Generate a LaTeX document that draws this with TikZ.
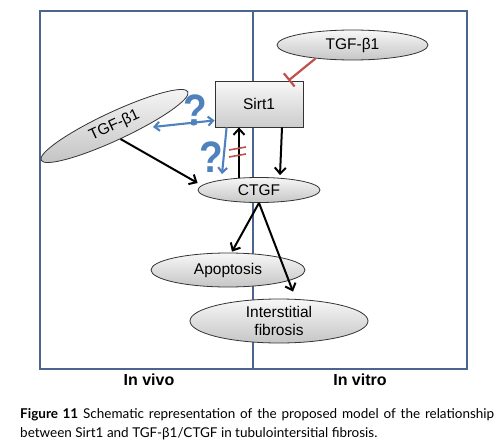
\documentclass[tikz,border=0pt]{standalone}
\usepackage{fontspec}
\setmainfont{Liberation Sans}
\newfontfamily\capfont{Lato}
\usetikzlibrary{shapes.geometric,arrows.meta,calc}
\definecolor{frameblue}{HTML}{4A6590}
\definecolor{qblue}{HTML}{4F81BD}
\definecolor{inhred}{HTML}{C0504D}
\begin{document}
\begin{tikzpicture}[x=1pt,y=-1pt,
  oval/.style={ellipse, draw=black!80, line width=0.8pt, top color=gray!6, bottom color=gray!45, inner sep=0pt, font=\fontsize{15.5}{18}\selectfont, align=center},
  sbox/.style={rectangle, draw=black!80, line width=0.8pt, top color=gray!6, bottom color=gray!40, inner sep=0pt, font=\fontsize{15.5}{18}\selectfont},
  arr/.style={-{Straight Barb[length=6pt,width=11pt]}, line width=2pt, black},
  barr/.style={-{Straight Barb[length=5pt,width=9pt]}, line width=2.1pt, qblue},
  inhib/.style={-{Bar[width=17pt,line width=2.2pt]}, inhred, line width=2.2pt},
  eqmark/.style={inhred, line width=1.6pt},
  qmark/.style={text=qblue, inner sep=0pt, font=\fontsize{44}{44}\selectfont\bfseries, xscale=0.88},
  side/.style={font=\fontsize{16}{18}\selectfont\bfseries, inner sep=0pt, anchor=base},
  frame/.style={draw=frameblue, line width=2.2pt}
]
\useasboundingbox (0,0) rectangle (496,442);
% frame
\draw[frame] (40,11) rectangle (467,369);
\draw[draw=frameblue, line width=1.5pt] (253,11) -- (253,369);
% nodes
\node[oval, minimum width=151pt, minimum height=30pt] (tgfR) at (352.5,45) {TGF-β1};
\node[sbox, minimum width=88pt, minimum height=46pt] (sirt) at (259,104) {Sirt1};
\node[oval, minimum width=162pt, minimum height=28pt, rotate=25] (tgfL) at (114.5,126) {TGF-β1};
\node[oval, minimum width=122pt, minimum height=25pt] (ctgf) at (259,190) {CTGF};
\node[oval, minimum width=154pt, minimum height=34pt] (apop) at (228,270) {Apoptosis};
\node[oval, minimum width=178pt, minimum height=44pt] (fib) at (279,321) {Interstitial\\fibrosis};
% free ends
\coordinate (qa) at (153,127);
\coordinate (sa) at ($(sirt.south west)+(0,-7)$);
% connectors
\draw[inhib] (tgfR.200) -- ($(sirt.north east)+(-15,0)$);
\draw[barr, {Straight Barb[length=5pt,width=9pt]}-{Straight Barb[length=5pt,width=9pt]}] (qa) -- node[pos=0.66, circle, fill=qblue, inner sep=0pt, minimum size=6pt] (dot) {} (sa);
\draw[barr] ($(sirt.south west)+(12,0)$) -- ($(ctgf.north)+(-37,-3)$);
\draw[arr] ($(ctgf.north)+(-20,1)$) -- ($(sirt.south)+(-20,0)$);
\draw[arr] ($(sirt.south)+(23,0)$) -- ($(ctgf.north)+(21,-2)$);
\draw[arr] (tgfL.south) -- ($(ctgf.west)+(0,-7)$);
\draw[arr] (ctgf.south) -- ($(apop.north)+(4,-1)$);
\draw[arr] (ctgf.south) -- ($(fib.north)+(14,-7)$);
% not-equal marks
\draw[eqmark] (229,150) -- (246,147);
\draw[eqmark] (229,157) -- (246,154);
% question marks
\node[qmark] (q1) at (195,110) {?};
\node[qmark] (q2) at (211,157) {?};
% side labels
\node[side] (vivo) at (149,385) {In vivo};
\node[side] (vitro) at (360,385) {In vitro};
% caption
\node[anchor=base west, inner sep=0pt] (cap) at (20,418) {\parbox[t]{474pt}{\hyphenpenalty=10000\capfont\fontsize{13.5}{19}\selectfont\textbf{Figure 11} Schematic representation of the proposed model of the relationship\linebreak between Sirt1 and TGF-β1/CTGF in tubulointersitial fibrosis.}};
\end{tikzpicture}
\end{document}
